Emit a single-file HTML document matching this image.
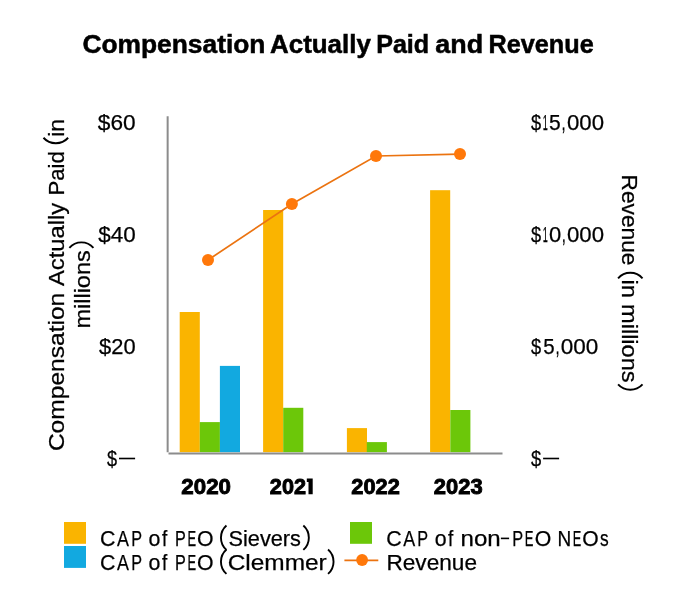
<!DOCTYPE html>
<html><head><meta charset="utf-8"><title>Compensation Actually Paid and Revenue</title>
<style>
html,body{margin:0;padding:0;background:#fff;}
svg{display:block;font-family:"Liberation Sans",sans-serif;will-change:transform;}
text{fill:#000000;}
</style></head><body>
<svg width="680" height="600" viewBox="0 0 680 600">
<rect width="680" height="600" fill="#ffffff"/>
<rect x="179.7" y="312.0" width="20.1" height="140.2" fill="#FAB400"/>
<rect x="199.8" y="422.1" width="20.1" height="30.1" fill="#6CC709"/>
<rect x="219.9" y="365.9" width="20.1" height="86.3" fill="#12A9E0"/>
<rect x="263.1" y="210.0" width="20.1" height="242.2" fill="#FAB400"/>
<rect x="283.2" y="407.8" width="20.1" height="44.4" fill="#6CC709"/>
<rect x="346.9" y="428.1" width="20.1" height="24.1" fill="#FAB400"/>
<rect x="366.8" y="442.1" width="20.1" height="10.1" fill="#6CC709"/>
<rect x="430.1" y="190.2" width="20.1" height="262.0" fill="#FAB400"/>
<rect x="450.3" y="410.0" width="20.1" height="42.2" fill="#6CC709"/>
<line x1="167.65" y1="116.2" x2="167.65" y2="452.3" stroke="#8C8C8C" stroke-width="2"/>
<line x1="168.5" y1="453.5" x2="502.5" y2="453.5" stroke="#8C8C8C" stroke-width="1.9"/>
<polyline fill="none" stroke="#EB7310" stroke-width="1.7" points="208,260 291.9,204 376,156 460,154.1"/>
<circle cx="208" cy="260" r="6" fill="#FF780A"/>
<circle cx="291.9" cy="204" r="6" fill="#FF780A"/>
<circle cx="376" cy="156" r="6" fill="#FF780A"/>
<circle cx="460" cy="154.1" r="6" fill="#FF780A"/>
<text x="82.40" y="53.2" font-size="25.1" font-weight="700" stroke="#000000" stroke-width="0.5" textLength="183.05" lengthAdjust="spacingAndGlyphs">Compensation</text>
<text x="270.05" y="53.2" font-size="25.1" font-weight="700" stroke="#000000" stroke-width="0.5" textLength="100.75" lengthAdjust="spacingAndGlyphs">Actually</text>
<text x="376.15" y="53.2" font-size="25.1" font-weight="700" stroke="#000000" stroke-width="0.5" textLength="53.03" lengthAdjust="spacingAndGlyphs">Paid</text>
<text x="435.35" y="53.2" font-size="25.1" font-weight="700" stroke="#000000" stroke-width="0.5" textLength="47.82" lengthAdjust="spacingAndGlyphs">and</text>
<text x="488.44" y="53.2" font-size="25.1" font-weight="700" stroke="#000000" stroke-width="0.5" textLength="105.26" lengthAdjust="spacingAndGlyphs">Revenue</text>
<text x="97.88" y="130" font-size="21.5" stroke="#000000" stroke-width="0.25" textLength="37.76" lengthAdjust="spacingAndGlyphs">$60</text>
<text x="98.22" y="242" font-size="21.5" stroke="#000000" stroke-width="0.25" textLength="37.41" lengthAdjust="spacingAndGlyphs">$40</text>
<text x="99.12" y="354" font-size="21.5" stroke="#000000" stroke-width="0.25" textLength="36.51" lengthAdjust="spacingAndGlyphs">$20</text>
<text x="107.03" y="466" font-size="21.5" stroke="#000000" stroke-width="0.25" textLength="10.06" lengthAdjust="spacingAndGlyphs">$</text>
<rect x="119" y="457.7" width="16.1" height="1.6" fill="#000000"/>
<text x="531.12" y="130" font-size="21.5" stroke="#000000" stroke-width="0.25" textLength="10.11" lengthAdjust="spacingAndGlyphs">$</text>
<text x="542.80" y="130" font-size="21.5" stroke="#000000" stroke-width="0.25" textLength="5.08" lengthAdjust="spacingAndGlyphs">1</text>
<text x="548.92" y="130" font-size="21.5" stroke="#000000" stroke-width="0.25" textLength="11.71" lengthAdjust="spacingAndGlyphs">5</text>
<text x="561.44" y="130" font-size="21.5" stroke="#000000" stroke-width="0.25" textLength="4.11" lengthAdjust="spacingAndGlyphs">,</text>
<text x="567.02" y="130" font-size="21.5" stroke="#000000" stroke-width="0.25" textLength="37.01" lengthAdjust="spacingAndGlyphs">000</text>
<text x="531.12" y="242" font-size="21.5" stroke="#000000" stroke-width="0.25" textLength="10.11" lengthAdjust="spacingAndGlyphs">$</text>
<text x="542.80" y="242" font-size="21.5" stroke="#000000" stroke-width="0.25" textLength="5.08" lengthAdjust="spacingAndGlyphs">1</text>
<text x="548.92" y="242" font-size="21.5" stroke="#000000" stroke-width="0.25" textLength="12.21" lengthAdjust="spacingAndGlyphs">0</text>
<text x="561.74" y="242" font-size="21.5" stroke="#000000" stroke-width="0.25" textLength="4.11" lengthAdjust="spacingAndGlyphs">,</text>
<text x="567.02" y="242" font-size="21.5" stroke="#000000" stroke-width="0.25" textLength="37.01" lengthAdjust="spacingAndGlyphs">000</text>
<text x="531.12" y="354" font-size="21.5" stroke="#000000" stroke-width="0.25" textLength="10.11" lengthAdjust="spacingAndGlyphs">$</text>
<text x="543.23" y="354" font-size="21.5" stroke="#000000" stroke-width="0.25" textLength="11.41" lengthAdjust="spacingAndGlyphs">5</text>
<text x="555.44" y="354" font-size="21.5" stroke="#000000" stroke-width="0.25" textLength="4.11" lengthAdjust="spacingAndGlyphs">,</text>
<text x="560.73" y="354" font-size="21.5" stroke="#000000" stroke-width="0.25" textLength="37.51" lengthAdjust="spacingAndGlyphs">000</text>
<text x="531.12" y="466" font-size="21.5" stroke="#000000" stroke-width="0.25" textLength="10.21" lengthAdjust="spacingAndGlyphs">$</text>
<rect x="543.1" y="457.7" width="16" height="1.6" fill="#000000"/>
<text x="181.35" y="493.9" font-size="22.0" font-weight="700" stroke="#000000" stroke-width="0.9" textLength="49.64" lengthAdjust="spacingAndGlyphs">2020</text>
<text x="269.85" y="493.9" font-size="22.0" font-weight="700" stroke="#000000" stroke-width="0.9" textLength="36.13" lengthAdjust="spacingAndGlyphs">202</text>
<text x="351.35" y="493.9" font-size="22.0" font-weight="700" stroke="#000000" stroke-width="0.9" textLength="48.43" lengthAdjust="spacingAndGlyphs">2022</text>
<text x="433.85" y="493.9" font-size="22.0" font-weight="700" stroke="#000000" stroke-width="0.9" textLength="48.83" lengthAdjust="spacingAndGlyphs">2023</text>
<path d="M306.8,478.4H312.7V494.2H308.5V482.1H306.8Z" fill="#000000"/>
<g transform="rotate(-90)">
<text x="-451.11" y="64.2" font-size="21.6" stroke="#000000" stroke-width="0.25" textLength="158.33" lengthAdjust="spacingAndGlyphs">Compensation</text>
<text x="-286.07" y="64.2" font-size="21.6" stroke="#000000" stroke-width="0.25" textLength="83.33" lengthAdjust="spacingAndGlyphs">Actually</text>
<text x="-195.60" y="64.2" font-size="21.6" stroke="#000000" stroke-width="0.25" textLength="44.42" lengthAdjust="spacingAndGlyphs">Paid</text>
<text x="-136.83" y="64.2" font-size="21.6" stroke="#000000" stroke-width="0.25" textLength="17.78" lengthAdjust="spacingAndGlyphs">in</text>
<path d="M-137.75,43.47 A16.57,16.57 0 0 0 -137.75,68.13" fill="none" stroke="#000000" stroke-width="1.9"/>
<text x="-328.56" y="90.0" font-size="21.6" stroke="#000000" stroke-width="0.25" textLength="78.22" lengthAdjust="spacingAndGlyphs">millions</text>
<path d="M-247.85,69.37 A15.91,15.91 0 0 1 -247.85,93.43" fill="none" stroke="#000000" stroke-width="1.9"/>
</g>
<g transform="rotate(90)">
<text x="174.47" y="-622.0" font-size="21.6" stroke="#000000" stroke-width="0.25" textLength="91.01" lengthAdjust="spacingAndGlyphs">Revenue</text>
<text x="279.42" y="-622.0" font-size="21.6" stroke="#000000" stroke-width="0.25" textLength="18.57" lengthAdjust="spacingAndGlyphs">in</text>
<text x="304.03" y="-622.0" font-size="21.6" stroke="#000000" stroke-width="0.25" textLength="78.62" lengthAdjust="spacingAndGlyphs">millions</text>
<path d="M278.35,-642.53 A16.15,16.15 0 0 0 278.35,-618.07" fill="none" stroke="#000000" stroke-width="1.9"/>
<path d="M384.35,-642.53 A16.55,16.55 0 0 1 384.35,-618.07" fill="none" stroke="#000000" stroke-width="1.9"/>
</g>
<rect x="64" y="522" width="22" height="21.8" fill="#FAB400"/>
<rect x="64" y="546" width="22" height="21.9" fill="#12A9E0"/>
<rect x="350" y="522" width="22" height="21.8" fill="#6CC709"/>
<line x1="344.4" y1="560.4" x2="378.3" y2="560.4" stroke="#EB7310" stroke-width="1.7"/>
<circle cx="362.1" cy="560.0" r="5.9" fill="#FF780A"/>
<text x="100.04" y="545.85" font-size="21.6" stroke="#000000" stroke-width="0.25" textLength="15.43" lengthAdjust="spacingAndGlyphs">C</text>
<text x="117.12" y="545.85" font-size="21.6" stroke="#000000" stroke-width="0.25" textLength="11.95" lengthAdjust="spacingAndGlyphs">A</text>
<text x="131.18" y="545.85" font-size="21.6" stroke="#000000" stroke-width="0.25" textLength="10.80" lengthAdjust="spacingAndGlyphs">P</text>
<text x="148.62" y="545.85" font-size="21.6" stroke="#000000" stroke-width="0.25" textLength="11.86" lengthAdjust="spacingAndGlyphs">o</text>
<text x="161.93" y="545.85" font-size="21.6" stroke="#000000" stroke-width="0.25" textLength="5.27" lengthAdjust="spacingAndGlyphs">f</text>
<text x="174.97" y="545.85" font-size="21.6" stroke="#000000" stroke-width="0.25" textLength="10.80" lengthAdjust="spacingAndGlyphs">P</text>
<text x="187.43" y="545.85" font-size="21.6" stroke="#000000" stroke-width="0.25" textLength="8.59" lengthAdjust="spacingAndGlyphs">E</text>
<text x="197.04" y="545.85" font-size="21.6" stroke="#000000" stroke-width="0.25" textLength="16.52" lengthAdjust="spacingAndGlyphs">O</text>
<text x="228.53" y="545.85" font-size="21.6" stroke="#000000" stroke-width="0.25" textLength="72.45" lengthAdjust="spacingAndGlyphs">Sievers</text>
<path d="M226.45,525.52 A16.24,16.24 0 0 0 226.45,549.88" fill="none" stroke="#000000" stroke-width="1.9"/>
<path d="M303.35,525.52 A16.24,16.24 0 0 1 303.35,549.88" fill="none" stroke="#000000" stroke-width="1.9"/>
<text x="100.04" y="569.85" font-size="21.6" stroke="#000000" stroke-width="0.25" textLength="15.43" lengthAdjust="spacingAndGlyphs">C</text>
<text x="117.12" y="569.85" font-size="21.6" stroke="#000000" stroke-width="0.25" textLength="11.95" lengthAdjust="spacingAndGlyphs">A</text>
<text x="131.18" y="569.85" font-size="21.6" stroke="#000000" stroke-width="0.25" textLength="10.80" lengthAdjust="spacingAndGlyphs">P</text>
<text x="148.62" y="569.85" font-size="21.6" stroke="#000000" stroke-width="0.25" textLength="11.86" lengthAdjust="spacingAndGlyphs">o</text>
<text x="161.93" y="569.85" font-size="21.6" stroke="#000000" stroke-width="0.25" textLength="5.27" lengthAdjust="spacingAndGlyphs">f</text>
<text x="174.97" y="569.85" font-size="21.6" stroke="#000000" stroke-width="0.25" textLength="10.80" lengthAdjust="spacingAndGlyphs">P</text>
<text x="187.43" y="569.85" font-size="21.6" stroke="#000000" stroke-width="0.25" textLength="8.59" lengthAdjust="spacingAndGlyphs">E</text>
<text x="197.04" y="569.85" font-size="21.6" stroke="#000000" stroke-width="0.25" textLength="16.52" lengthAdjust="spacingAndGlyphs">O</text>
<text x="227.69" y="569.85" font-size="21.6" stroke="#000000" stroke-width="0.25" textLength="99.00" lengthAdjust="spacingAndGlyphs">Clemmer</text>
<path d="M226.45,549.52 A16.24,16.24 0 0 0 226.45,573.88" fill="none" stroke="#000000" stroke-width="1.9"/>
<path d="M328.05,549.52 A16.24,16.24 0 0 1 328.05,573.88" fill="none" stroke="#000000" stroke-width="1.9"/>
<text x="386.14" y="545.85" font-size="21.6" stroke="#000000" stroke-width="0.25" textLength="15.43" lengthAdjust="spacingAndGlyphs">C</text>
<text x="403.23" y="545.85" font-size="21.6" stroke="#000000" stroke-width="0.25" textLength="11.95" lengthAdjust="spacingAndGlyphs">A</text>
<text x="417.28" y="545.85" font-size="21.6" stroke="#000000" stroke-width="0.25" textLength="10.80" lengthAdjust="spacingAndGlyphs">P</text>
<text x="434.73" y="545.85" font-size="21.6" stroke="#000000" stroke-width="0.25" textLength="11.86" lengthAdjust="spacingAndGlyphs">o</text>
<text x="448.03" y="545.85" font-size="21.6" stroke="#000000" stroke-width="0.25" textLength="5.27" lengthAdjust="spacingAndGlyphs">f</text>
<text x="460.51" y="545.85" font-size="21.6" stroke="#000000" stroke-width="0.25" textLength="40.19" lengthAdjust="spacingAndGlyphs">non</text>
<text x="512.27" y="545.85" font-size="21.6" stroke="#000000" stroke-width="0.25" textLength="10.91" lengthAdjust="spacingAndGlyphs">P</text>
<text x="524.82" y="545.85" font-size="21.6" stroke="#000000" stroke-width="0.25" textLength="8.70" lengthAdjust="spacingAndGlyphs">E</text>
<text x="534.74" y="545.85" font-size="21.6" stroke="#000000" stroke-width="0.25" textLength="16.52" lengthAdjust="spacingAndGlyphs">O</text>
<text x="557.44" y="545.85" font-size="21.6" stroke="#000000" stroke-width="0.25" textLength="13.73" lengthAdjust="spacingAndGlyphs">N</text>
<text x="572.74" y="545.85" font-size="21.6" stroke="#000000" stroke-width="0.25" textLength="8.48" lengthAdjust="spacingAndGlyphs">E</text>
<text x="582.15" y="545.85" font-size="21.6" stroke="#000000" stroke-width="0.25" textLength="16.40" lengthAdjust="spacingAndGlyphs">O</text>
<text x="600.12" y="545.85" font-size="21.6" stroke="#000000" stroke-width="0.25" textLength="8.69" lengthAdjust="spacingAndGlyphs">s</text>
<text x="386.48" y="569.85" font-size="21.6" stroke="#000000" stroke-width="0.25" textLength="90.51" lengthAdjust="spacingAndGlyphs">Revenue</text>
<rect x="500.9" y="537.6" width="8.2" height="1.6" fill="#000000"/>
</svg>
</body></html>
